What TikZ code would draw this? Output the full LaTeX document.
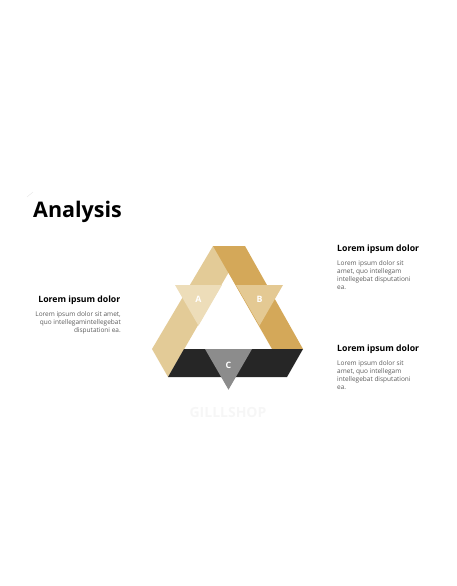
\documentclass[tikz,border=0pt]{standalone}
\usepackage{fontspec}
\setmainfont{Open Sans}

\definecolor{sand}{HTML}{E3CB97}
\definecolor{gold}{HTML}{D4A859}
\definecolor{coal}{HTML}{262626}
\definecolor{sandtri}{HTML}{EDDDB9}
\definecolor{goldtri}{HTML}{E4C993}
\definecolor{coaltri}{HTML}{8C8C8C}
\definecolor{bodygray}{HTML}{5A5A5A}

\begin{document}
\begin{tikzpicture}[x=1pt,y=-1pt,
  head/.style={font=\fontsize{8.7}{11}\selectfont\bfseries,inner sep=0},
  body/.style={font=\fontsize{6.5}{8}\selectfont,text=bodygray,inner sep=0},
  trilabel/.style={font=\fontsize{8.8}{10}\selectfont\bfseries,text=white}]
\useasboundingbox (0,0) rectangle (456,586);

\draw[gray!20] (27,197) -- (33,192);
\node[anchor=base west,inner sep=0,font=\fontsize{21.5}{26}\selectfont\bfseries] (title) at (33,217) {Analysis};

% the three bands
\fill[sand] (213,246) -- (244,246) -- (168,377) -- (152,349) -- cycle;
\fill[gold] (213,246) -- (245,246) -- (303,349) -- (272,349) -- cycle;
\fill[coal] (184,349) -- (303,349) -- (287,377) -- (168,377) -- cycle;

% markers
\fill[sandtri] (175,285) -- (222,285) -- (198.5,325.7) -- cycle;
\fill[goldtri] (236,285) -- (283,285) -- (259.5,325.7) -- cycle;
\fill[coaltri] (205,349) -- (252,349) -- (228.5,389.7) -- cycle;
\node[trilabel] (labA) at (198.5,299) {A};
\node[trilabel] (labB) at (259.5,299) {B};
\node[trilabel] (labC) at (228.5,365) {C};

\node[font=\fontsize{14}{17}\selectfont\bfseries,text=gray!7] (mark) at (228,412) {GILLLSHOP};

% texts
\node[head,anchor=base east] (headA) at (120.5,302) {Lorem ipsum dolor};
\node[body,anchor=north east,align=right] (bodyA) at (121,311)
  {Lorem ipsum dolor sit amet,\\quo intellegamintellegebat\\disputationi ea.};
\node[head,anchor=base west] (headB) at (337,251) {Lorem ipsum dolor};
\node[body,anchor=north west,align=left] (bodyB) at (337,260)
  {Lorem ipsum dolor sit\\amet, quo intellegam\\intellegebat disputationi\\ea.};
\node[head,anchor=base west] (headC) at (337,351) {Lorem ipsum dolor};
\node[body,anchor=north west,align=left] (bodyC) at (337,360)
  {Lorem ipsum dolor sit\\amet, quo intellegam\\intellegebat disputationi\\ea.};
\end{tikzpicture}
\end{document}
